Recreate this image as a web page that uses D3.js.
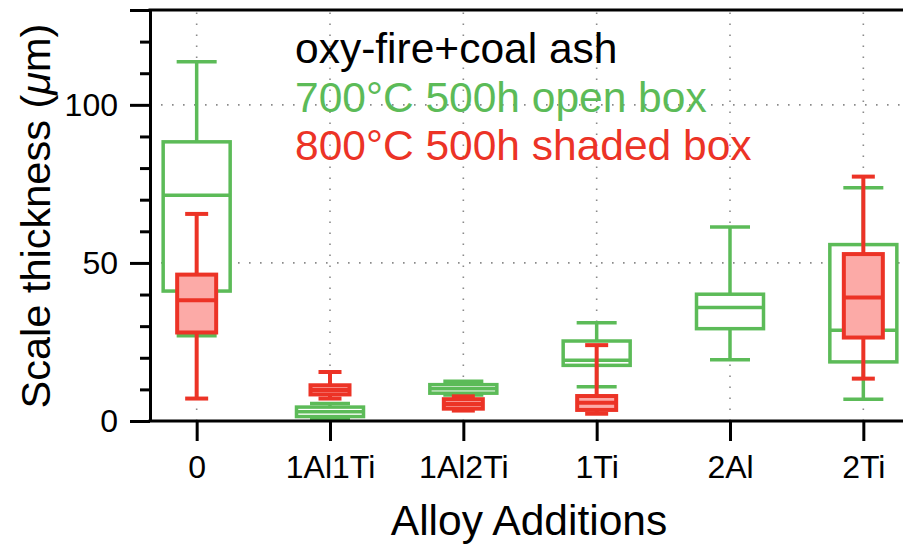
<!DOCTYPE html>
<html>
  <head>
    <meta charset="utf-8">
    <title>Scale thickness by alloy addition</title>
    <script src="https://cdn.jsdelivr.net/npm/d3@7"></script>
    <style>
      body { margin: 0; background: #fff; }
      #chart { font-family: "Liberation Sans", Arial, Helvetica, sans-serif; }
      .grid line { stroke: #8a8a8a; stroke-width: 1.6; stroke-dasharray: 1.6 9.4; }
      .axis path, .axis line { stroke: #000; stroke-width: 3; }
      .axis text { fill: #000; font-size: 32px; }
    </style>
  </head>
  <body>
    <svg id="chart" width="903" height="544"></svg>
    <script>
      // data, values in micrometres
      categories = ["0", "1Al1Ti", "1Al2Ti", "1Ti", "2Al", "2Ti"];
      // 700°C 500h, open box
      greenMin    = [27.0, 0.8, 8.2, 10.8, 19.4, 6.9];
      greenQ1     = [41.1, 1.4, 8.8, 17.6, 29.2, 18.7];
      greenMedian = [71.4, 2.9, 10.2, 19.2, 35.9, 28.7];
      greenQ3     = [88.3, 4.4, 11.5, 25.3, 40.1, 55.8];
      greenMax    = [113.6, 5.5, 12.6, 31.1, 61.4, 73.8];
      // 800°C 500h, shaded box (no 2Al sample)
      redMin    = [7.1, 7.1, 3.3, 2.3, null, 13.4];
      redQ1     = [28.0, 8.4, 3.9, 3.5, null, 26.4];
      redMedian = [38.2, 9.8, 5.4, 5.8, null, 39.1];
      redQ3     = [46.3, 11.3, 6.9, 7.9, null, 52.8];
      redMax    = [65.5, 15.5, 7.8, 24.0, null, 77.3];
      yMajorTicks = [0, 50, 100];
      legendLines = [
        { text: "oxy-fire+coal ash", color: "#000000" },
        { text: "700°C 500h open box", color: "#5cbb58" },
        { text: "800°C 500h shaded box", color: "#ec3326" }
      ];

      // build box tables
      function boxes(mins, q1s, meds, q3s, maxs) {
        return categories.map(function(c, i) {
          return { cat: c, min: mins[i], q1: q1s[i], med: meds[i], q3: q3s[i], max: maxs[i] };
        }).filter(function(d) { return d.med !== null; });
      }
      greenBoxes = boxes(greenMin, greenQ1, greenMedian, greenQ3, greenMax);
      redBoxes = boxes(redMin, redQ1, redMedian, redQ3, redMax);

      // layout
      margin = { top: 10, right: -7, bottom: 123, left: 150 };
      width = 903;
      height = 544;
      chart = d3.select("#chart");

      x = d3.scalePoint()
        .domain(categories)
        .range([margin.left, width - margin.right])
        .padding(0.35);
      y = d3.scaleLinear()
        .domain([0, 130])
        .range([height - margin.bottom, margin.top]);

      // dotted grid
      grid = chart.append("g").attr("class", "grid");
      grid.selectAll(".h")
        .data([50, 100])
        .join("line")
          .attr("x1", margin.left)
          .attr("x2", width)
          .attr("y1", function(d) { return y(d); })
          .attr("y2", function(d) { return y(d); });
      grid.selectAll(".v")
        .data(categories)
        .join("line")
          .attr("x1", function(d) { return x(d); })
          .attr("x2", function(d) { return x(d); })
          .attr("y1", y(0))
          .attr("y2", margin.top);

      // box plot drawing
      function drawBoxes(data, opts) {
        g = chart.append("g");
        items = g.selectAll("g")
          .data(data)
          .join("g")
            .attr("stroke", opts.color)
            .attr("stroke-width", opts.stroke);
        // whiskers
        items.append("line")
          .attr("x1", function(d) { return x(d.cat); })
          .attr("x2", function(d) { return x(d.cat); })
          .attr("y1", function(d) { return y(d.max); })
          .attr("y2", function(d) { return y(d.q3); });
        items.append("line")
          .attr("x1", function(d) { return x(d.cat); })
          .attr("x2", function(d) { return x(d.cat); })
          .attr("y1", function(d) { return y(d.q1); })
          .attr("y2", function(d) { return y(d.min); });
        items.selectAll(".cap")
          .data(function(d) { return [d, d].map(function(e, k) { return { cat: e.cat, v: k ? e.min : e.max }; }); })
          .join("line")
            .attr("class", "cap")
            .attr("x1", function(d) { return x(d.cat) - opts.cap / 2; })
            .attr("x2", function(d) { return x(d.cat) + opts.cap / 2; })
            .attr("y1", function(d) { return y(d.v); })
            .attr("y2", function(d) { return y(d.v); });
        // box and median
        items.append("rect")
          .attr("x", function(d) { return x(d.cat) - opts.box / 2; })
          .attr("width", opts.box)
          .attr("y", function(d) { return y(d.q3); })
          .attr("height", function(d) { return y(d.q1) - y(d.q3); })
          .attr("fill", opts.fill);
        items.append("line")
          .attr("x1", function(d) { return x(d.cat) - opts.box / 2; })
          .attr("x2", function(d) { return x(d.cat) + opts.box / 2; })
          .attr("y1", function(d) { return y(d.med); })
          .attr("y2", function(d) { return y(d.med); });
      }
      drawBoxes(greenBoxes, { color: "#5cbb58", fill: "#ffffff", stroke: 3.5, box: 67, cap: 40 });
      drawBoxes(redBoxes, { color: "#ec3326", fill: "#fcaaa7", stroke: 4, box: 39, cap: 23 });

      // axes
      xAxis = d3.axisBottom(x)
        .tickSize(20)
        .tickSizeOuter(0)
        .tickPadding(14);
      xAxisGroup = chart.append("g")
        .attr("class", "axis")
        .attr("transform", "translate(0," + y(0) + ")")
        .call(xAxis);
      xAxisGroup.select(".domain").attr("d", "M" + (margin.left - 1.5) + ",0H" + (width + 5));

      yMinor = d3.axisLeft(y)
        .tickValues(d3.range(0, 131, 10).filter(function(v) { return yMajorTicks.indexOf(v) < 0 && v !== 130; }))
        .tickSize(10)
        .tickFormat("");
      yMinorGroup = chart.append("g")
        .attr("class", "axis")
        .attr("transform", "translate(" + margin.left + ",0)")
        .call(yMinor);
      yMinorGroup.select(".domain").remove();

      yAxis = d3.axisLeft(y)
        .tickValues(yMajorTicks.concat([130]))
        .tickSize(20)
        .tickSizeOuter(0)
        .tickPadding(12)
        .tickFormat(function(d) { return d === 130 ? "" : d; });
      chart.append("g")
        .attr("class", "axis")
        .attr("transform", "translate(" + margin.left + ",0)")
        .call(yAxis);

      // top frame
      chart.append("line")
        .attr("x1", margin.left - 1.5)
        .attr("x2", width + 5)
        .attr("y1", y(130))
        .attr("y2", y(130))
        .attr("stroke", "#000")
        .attr("stroke-width", 3);

      // axis titles
      chart.append("text")
        .attr("x", 529)
        .attr("y", 535)
        .attr("text-anchor", "middle")
        .attr("font-size", 42.5)
        .text("Alloy Additions");
      yTitle = chart.append("text")
        .attr("transform", "translate(50," + 216 + ") rotate(-90)")
        .attr("text-anchor", "middle")
        .attr("font-size", 41.5);
      yTitle.append("tspan").text("Scale thickness (");
      yTitle.append("tspan").attr("font-style", "italic").text("\u03bc");
      yTitle.append("tspan").text("m)");

      // legend text
      chart.append("g").selectAll("text")
        .data(legendLines)
        .join("text")
          .attr("x", 295)
          .attr("y", function(d, i) { return 63 + i * 48.5; })
          .attr("font-size", 42.5)
          .attr("fill", function(d) { return d.color; })
          .text(function(d) { return d.text; });
    </script>
  </body>
</html>
